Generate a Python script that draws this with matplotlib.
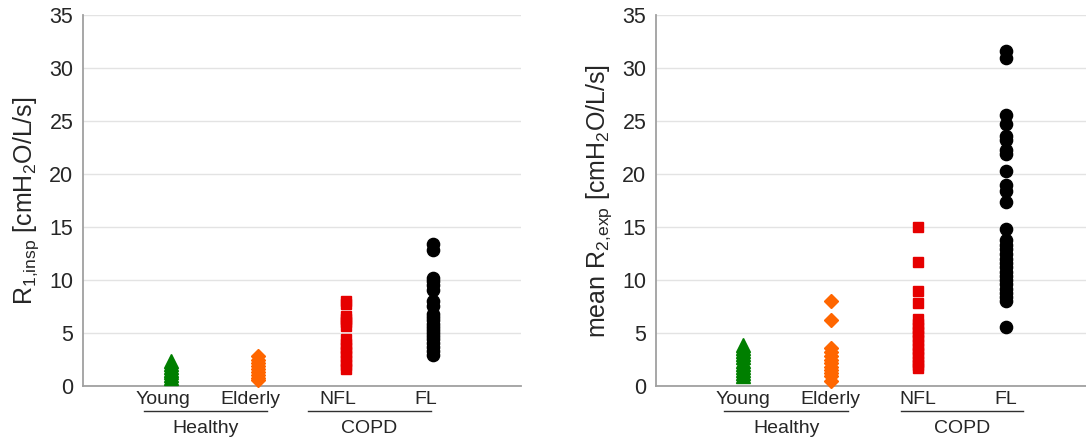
import numpy as np
import matplotlib
matplotlib.use("Agg")
import matplotlib.pyplot as plt

plt.rcParams['font.family'] = ['Liberation Sans', 'DejaVu Sans']
plt.rcParams['mathtext.fontset'] = 'custom'
plt.rcParams['mathtext.rm'] = 'Liberation Sans'
plt.rcParams['mathtext.it'] = 'Liberation Sans'

# group names and x positions
groups = ['Young', 'Elderly', 'NFL', 'FL']
xpos = [1, 2, 3, 4]

# R1,insp per subject (cmH2O/L/s)
r1_young = [2.4, 2.1, 1.8, 1.5, 1.3, 1.0, 0.8]
r1_elderly = [2.8, 2.5, 2.2, 1.9, 1.6, 1.3, 1.0, 0.8, 0.6]
r1_nfl = [8.0, 7.7, 6.6, 6.3, 6.0, 5.7, 4.4, 4.0, 3.6, 3.2, 2.8, 2.4, 2.0, 1.6]
r1_fl = [13.4, 12.8, 10.2, 9.9, 9.5, 9.1, 8.0, 7.6, 6.8, 6.5, 6.2, 5.9,
         5.6, 5.3, 5.0, 4.7, 4.4, 4.1, 3.7, 3.3, 2.9]

# mean R2,exp per subject (cmH2O/L/s)
r2_young = [3.9, 3.6, 3.3, 3.0, 2.7, 2.4, 2.1, 1.8, 1.5, 1.2, 0.9]
r2_elderly = [8.0, 6.2, 3.6, 3.2, 2.8, 2.5, 2.2, 1.8, 1.5, 1.2, 0.9, 0.5]
r2_nfl = [15.0, 11.7, 9.0, 7.8, 6.3, 5.9, 5.5, 5.1, 4.7, 4.3, 3.9, 3.5,
          3.1, 2.7, 2.3, 2.0, 1.7]
r2_fl = [31.6, 31.0, 25.6, 24.7, 23.6, 23.2, 22.3, 21.9, 20.3, 19.0, 18.4,
         17.4, 14.8, 13.8, 13.3, 12.9, 12.5, 12.0, 11.6, 11.2, 10.8, 10.4,
         10.0, 9.6, 9.2, 8.8, 8.4, 8.0, 5.6]

styles = [('^', '#007f00', 10.5),
          ('D', '#ff6600', 7.6),
          ('s', '#e60000', 7.4),
          ('o', 'black', 8.8)]

txt = '#262626'

fig = plt.figure(figsize=(10.86, 4.37), dpi=100)
ax1 = fig.add_axes([83/1086, 51/437, 438/1086, 370.7/437])
ax2 = fig.add_axes([656/1086, 51/437, 430/1086, 370.7/437])


def panel(ax, data, ylabel, xmax, lab_shift, healthy_span, copd_span):
    for x, vals, (m, c, ms) in zip(xpos, data, styles):
        ax.plot(np.full(len(vals), x), vals, linestyle='none', marker=m,
                markersize=ms, color=c, markeredgecolor=c, clip_on=False,
                zorder=3)
    ax.set_xlim(0, xmax)
    ax.set_ylim(0, 35)
    ax.set_yticks(np.arange(0, 36, 5))
    ax.set_xticks([])
    ax.grid(axis='y', color='#e3e3e3', linewidth=1)
    ax.set_axisbelow(True)
    for s in ['top', 'right']:
        ax.spines[s].set_visible(False)
    for s in ['left', 'bottom']:
        ax.spines[s].set_color('#a0a0a0')
        ax.spines[s].set_linewidth(1.3)
    ax.tick_params(axis='y', length=0, labelsize=15.5, labelcolor=txt, pad=7)
    ax.set_ylabel(ylabel, fontsize=18, color=txt, labelpad=6)

    tr = ax.get_xaxis_transform()
    for x, g in zip(xpos, groups):
        ax.text(x + lab_shift, -0.049, g, transform=tr, ha='center',
                va='baseline', fontsize=14, color=txt)
    for (a, b), name in [(healthy_span, 'Healthy'), (copd_span, 'COPD')]:
        ax.plot([a, b], [-0.068, -0.068], transform=tr, color='#303030',
                linewidth=1, clip_on=False)
        ax.text((a + b) / 2, -0.128, name, transform=tr, ha='center',
                va='baseline', fontsize=14, color=txt)


panel(ax1, [r1_young, r1_elderly, r1_nfl, r1_fl],
      r'R$_{1{,}\mathrm{insp}}$ [cmH$_2$O/L/s]', 5, -0.09,
      (0.7, 2.1), (2.57, 3.97))
panel(ax2, [r2_young, r2_elderly, r2_nfl, r2_fl],
      r'mean R$_{2{,}\mathrm{exp}}$ [cmH$_2$O/L/s]', 4.92, 0.0,
      (0.78, 2.2), (2.8, 4.2))

fig.savefig('out.png', dpi=100)
